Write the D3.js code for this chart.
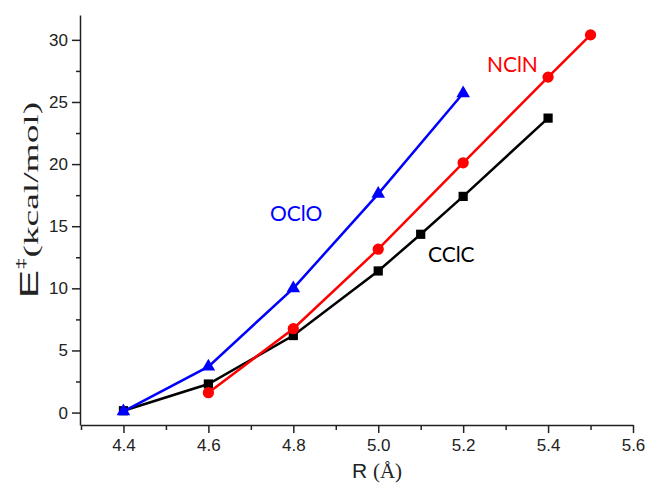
<!DOCTYPE html>
<html>
<head>
<meta charset="utf-8">
<style>
  body { margin: 0; background: #fff; }
  .axis path, .axis line { stroke: #222; stroke-width: 1.5px; }
  .axis text { font: 17px "Liberation Sans", Arial, sans-serif; fill: #222; }
  .lbl { font-family: Lato, "Open Sans", sans-serif; font-size: 21px; }
</style>
</head>
<body>
<svg width="648" height="485"></svg>
<script src="https://d3js.org/d3.v7.min.js"></script>
<script>
// values
var rOClO = [4.4, 4.6, 4.8, 5.0, 5.2];
var eOClO = [0.1, 3.7, 10.0, 17.6, 25.7];

var rNClN = [4.6, 4.8, 5.0, 5.2, 5.4, 5.5];
var eNClN = [1.6, 6.75, 13.15, 20.1, 27.0, 30.4];

var rCClC = [4.4, 4.6, 4.8, 5.0, 5.1, 5.2, 5.4];
var eCClC = [0.15, 2.3, 6.2, 11.4, 14.35, 17.4, 23.7];

var xTicks = [4.4, 4.6, 4.8, 5.0, 5.2, 5.4, 5.6];
var xMinor = [4.3, 4.5, 4.7, 4.9, 5.1, 5.3, 5.5];
var yTicks = [0, 5, 10, 15, 20, 25, 30];
var yMinor = [2.5, 7.5, 12.5, 17.5, 22.5, 27.5];

var svg = d3.select("svg");

var x = d3.scaleLinear().domain([4.3, 5.6]).range([81, 633]);
var y = d3.scaleLinear().domain([-1, 32]).range([425, 15]);

// minor ticks first, then the main axes on top
svg.append("g").attr("class", "axis")
    .attr("transform", "translate(0,425)")
    .call(d3.axisBottom(x).tickValues(xMinor).tickSize(5).tickFormat(""))
    .select(".domain").remove();
svg.append("g").attr("class", "axis")
    .attr("transform", "translate(80,0)")
    .call(d3.axisLeft(y).tickValues(yMinor).tickSize(4).tickFormat(""))
    .select(".domain").remove();

svg.append("g").attr("class", "axis")
    .attr("transform", "translate(0,425)")
    .call(d3.axisBottom(x).tickValues(xTicks).tickSize(8).tickSizeOuter(0).tickPadding(6)
      .tickFormat(d3.format(".1f")));

svg.append("g").attr("class", "axis")
    .attr("transform", "translate(80,0)")
    .call(d3.axisLeft(y).tickValues(yTicks).tickSize(8).tickSizeOuter(0).tickPadding(4));

var line = d3.line()
    .x(function(d) { return x(d[0]); })
    .y(function(d) { return y(d[1]); });

function series(rs, es, color, shape, size) {
  var pts = d3.zip(rs, es);
  svg.append("path")
      .datum(pts)
      .attr("d", line)
      .attr("fill", "none")
      .attr("stroke", color)
      .attr("stroke-width", 2.5);
  svg.append("g").selectAll("path")
      .data(pts)
      .join("path")
      .attr("transform", function(d) { return "translate(" + x(d[0]) + "," + y(d[1]) + ")"; })
      .attr("d", d3.symbol().type(shape).size(size))
      .attr("fill", color);
}

series(rCClC, eCClC, "#000000", d3.symbolSquare, 85);
series(rNClN, eNClN, "#ff0000", d3.symbolCircle, 100);
series(rOClO, eOClO, "#0000ff", d3.symbolTriangle, 80);

// series labels
svg.append("text").attr("class", "lbl").attr("x", 270).attr("y", 221)
    .attr("fill", "#0000ff").text("OClO");
svg.append("text").attr("class", "lbl").attr("x", 487).attr("y", 72)
    .attr("fill", "#ff0000").text("NClN");
svg.append("text").attr("class", "lbl").attr("x", 428).attr("y", 262)
    .attr("fill", "#000000").text("CClC");

// axis titles
var xt = svg.append("text")
    .attr("x", 377).attr("y", 478)
    .attr("text-anchor", "middle")
    .attr("fill", "#222");
xt.append("tspan").attr("font-family", "Liberation Sans, Arial, sans-serif").attr("font-size", 21).text("R ");
xt.append("tspan").attr("font-family", "Liberation Serif, Times New Roman, serif").attr("font-size", 21).text("(Å)");

var yt = svg.append("text")
    .attr("transform", "translate(38,200) rotate(-90) scale(1.7,1)")
    .attr("text-anchor", "middle")
    .attr("fill", "#222");
yt.append("tspan").attr("font-family", "Liberation Sans, Arial, sans-serif").attr("font-size", 25).text("E");
yt.append("tspan").attr("font-family", "Liberation Sans, Arial, sans-serif").attr("font-size", 13)
    .attr("dy", -13).text("‡");
yt.append("tspan").attr("font-family", "Liberation Serif, Times New Roman, serif").attr("font-size", 22)
    .attr("dy", 13).text("(kcal/mol)");
</script>
</body>
</html>
